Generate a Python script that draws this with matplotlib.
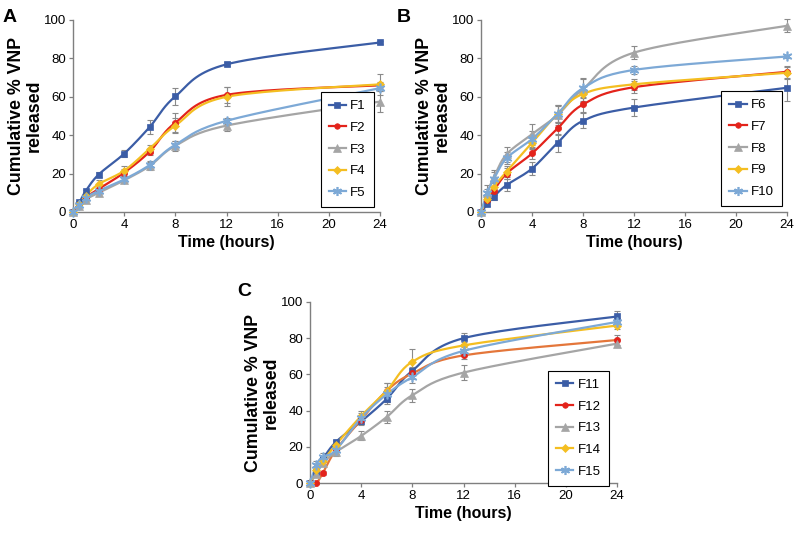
import numpy as np
import matplotlib
matplotlib.use("Agg")
import matplotlib.pyplot as plt
from matplotlib.lines import Line2D

plt.rcParams['font.family'] = ['Liberation Sans', 'DejaVu Sans']

time_h = [0, 0.5, 1, 2, 4, 6, 8, 12, 24]

# Panel A
labels_a = ["F1", "F2", "F3", "F4", "F5"]
vals_a = [
    [0, 5, 11, 19.5, 30.4, 44.3, 60.2, 76.9, 88.3],
    [0, 3.5, 7.5, 12, 20.5, 31.5, 46.5, 61, 66],
    [0, 3, 6.5, 10, 16.5, 24, 34.5, 45, 57.5],
    [0, 4, 8.5, 14.5, 21.5, 33, 45, 60, 66.5],
    [0, 3.5, 7.5, 11, 17, 24.5, 35, 47.5, 64.5],
]
err_a = [
    [0, 0.5, 0.5, 1.5, 2, 3.5, 4.5, 1, 1],
    [0, 0.5, 1, 2, 2, 2, 5, 4, 1.5],
    [0, 0.5, 1, 1.5, 1.5, 2, 2.5, 3, 5.5],
    [0, 0.5, 1, 2, 2.5, 2, 4, 5, 5.5],
    [0, 0.5, 1, 1.5, 1.5, 2, 2, 1.5, 1.5],
]

# Panel B
labels_b = ["F6", "F7", "F8", "F9", "F10"]
vals_b = [
    [0, 4, 8, 14, 22.6, 36, 47.5, 54.4, 64.7],
    [0, 6, 11, 20, 30.5, 43.5, 56, 65, 73],
    [0, 10, 18, 30, 40.5, 50.5, 64, 83, 97],
    [0, 7, 13, 21, 36, 51, 61.5, 66.5, 72.5],
    [0, 10, 17, 28, 38, 51, 64.5, 74, 81],
]
err_b = [
    [0, 1, 1.5, 3, 3.5, 4.5, 4, 4.5, 7],
    [0, 1, 2, 3, 3, 3.5, 4, 3, 3],
    [0, 2, 3, 4, 5.5, 5, 6, 3.5, 3.5],
    [0, 1.5, 2.5, 3, 3, 4, 4, 3, 3],
    [0, 4, 5, 3, 4, 4.5, 5, 2, 1],
]

# Panel C
labels_c = ["F11", "F12", "F13", "F14", "F15"]
vals_c = [
    [0, 6, 13, 22.5, 34, 46.5, 62, 80, 92],
    [0, 0, 5.5, 18, 35, 51, 60.5, 70.5, 79],
    [0, 5, 11, 17, 26, 36.5, 48.5, 61, 77],
    [0, 7, 12, 21, 37, 51, 67, 76, 87],
    [0, 10, 14.5, 18, 36, 49, 58.5, 73, 89],
]
err_c = [
    [0, 1, 1.5, 1, 2, 3, 2, 3, 3],
    [0, 0.5, 1, 2, 2.5, 4, 3, 2, 3],
    [0, 1, 1.5, 2, 2.5, 3.5, 3.5, 4, 2],
    [0, 1.5, 2, 2, 3, 4, 7, 2, 2],
    [0, 2, 2, 2, 2.5, 4, 3, 2, 2],
]

xticks = [0, 4, 8, 12, 16, 20, 24]
yticks = [0, 20, 40, 60, 80, 100]

colors = ["#3B5DA6", "#E3231B", "#A5A5A5", "#F4BE21", "#7DA9D6"]
markers = ["s", "o", "^", "D", (6, 2, 0)]
msizes = [5, 4.5, 6, 4.5, 7]


def smooth(x, y, n=20):
    x = np.asarray(x, float)
    y = np.asarray(y, float)
    px = np.concatenate([[x[0]], x, [x[-1]]])
    py = np.concatenate([[y[0]], y, [y[-1]]])
    xs, ys = [], []
    t = np.linspace(0, 1, n)
    for i in range(len(x) - 1):
        p0 = np.array([px[i], py[i]])
        p1 = np.array([px[i + 1], py[i + 1]])
        p2 = np.array([px[i + 2], py[i + 2]])
        p3 = np.array([px[i + 3], py[i + 3]])
        c1 = p1 + (p2 - p0) / 6.0
        c2 = p2 - (p3 - p1) / 6.0
        b = ((1 - t) ** 3)[:, None] * p1 + (3 * (1 - t) ** 2 * t)[:, None] * c1 \
            + (3 * (1 - t) * t ** 2)[:, None] * c2 + (t ** 3)[:, None] * p2
        xs.extend(b[:, 0])
        ys.extend(b[:, 1])
    return np.array(xs), np.array(ys)


W, H = 794, 537
fig = plt.figure(figsize=(W / 100, H / 100), dpi=100)


def px_axes(x0, x1, y0, y1):
    return fig.add_axes([x0 / W, 1 - y1 / H, (x1 - x0) / W, (y1 - y0) / H])


def panel(ax, labels, vals, errs, leg_anchor, line_colors=None):
    handles = []
    for i, (lab, v, e) in enumerate(zip(labels, vals, errs)):
        c = colors[i]
        lc = line_colors[i] if line_colors else c
        ax.errorbar(time_h, v, yerr=e, fmt='none', ecolor='#8a8a8a', elinewidth=0.8,
                    capsize=2, capthick=0.8, zorder=2, clip_on=False)
        sx, sy = smooth(time_h, v)
        ax.plot(sx, sy, color=lc, lw=1.6, zorder=3, clip_on=False)
        mk = markers[i]
        ax.plot(time_h, v, linestyle='none', marker=mk, ms=msizes[i], color=c,
                mec=c, mew=1.2 if i == 4 else 0.5, zorder=4, clip_on=False)
        handles.append(Line2D([0], [0], color=c, lw=1.6, marker=mk, ms=msizes[i] - 0.5,
                              mec=c, mew=1.2 if i == 4 else 0.5))
    ax.set_xlim(0, 24)
    ax.set_ylim(0, 100)
    ax.set_xticks(xticks)
    ax.set_yticks(yticks)
    for s in ['top', 'right']:
        ax.spines[s].set_visible(False)
    for s in ['left', 'bottom']:
        ax.spines[s].set_color('#7f7f7f')
        ax.spines[s].set_linewidth(1.0)
    ax.tick_params(axis='both', direction='out', length=3, width=0.9, color='#7f7f7f',
                   labelsize=9.5, pad=2)
    ax.set_xlabel("Time (hours)", fontsize=11.5, fontweight='bold', labelpad=3)
    ax.set_ylabel("Cumulative % VNP\nreleased", fontsize=12.8, fontweight='bold',
                  labelpad=1, linespacing=1.05)
    leg = ax.legend(handles, labels, loc='lower right', bbox_to_anchor=leg_anchor,
                    borderaxespad=0, fancybox=False, edgecolor='black', framealpha=1,
                    fontsize=9.5, handlelength=1.3, labelspacing=0.72,
                    handletextpad=0.35, borderpad=0.6)
    leg.get_frame().set_linewidth(0.8)
    return ax


axA = px_axes(73, 380, 20, 212)
panel(axA, labels_a, vals_a, err_a, (0.98, 0.026))
axB = px_axes(481, 787, 20, 212)
panel(axB, labels_b, vals_b, err_b, (0.984, 0.031))
axC = px_axes(310, 617, 302, 483)
panel(axC, labels_c, vals_c, err_c, (0.974, -0.015),
      line_colors=[colors[0], "#E4763A", colors[2], colors[3], colors[4]])

fig.text(3 / W, 1 - 22 / H, "A", fontsize=14, fontweight='bold')
fig.text(397 / W, 1 - 22 / H, "B", fontsize=14, fontweight='bold')
fig.text(237 / W, 1 - 296 / H, "C", fontsize=14, fontweight='bold')

fig.savefig("out.png", dpi=100)
